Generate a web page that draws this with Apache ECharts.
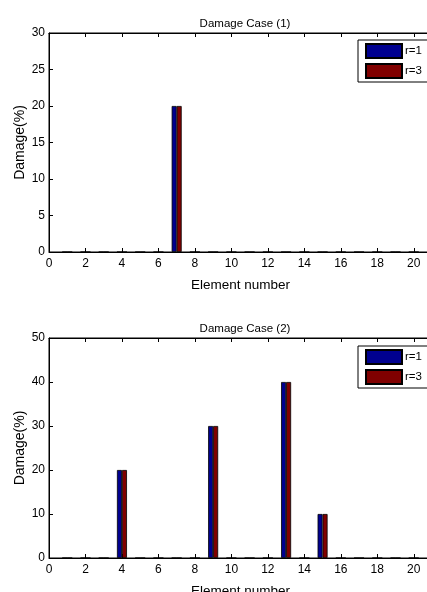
<!DOCTYPE html>
<html>
<head>
<meta charset="utf-8">
<script src="https://cdn.jsdelivr.net/npm/echarts@6/dist/echarts.min.js"></script>
<style>
  html, body { margin: 0; padding: 0; background: #fff; }
  #chart { width: 427px; height: 592px; }
</style>
</head>
<body>
<div id="chart"></div>
<script>
// Element numbers along the beam
const elements = [1, 2, 3, 4, 5, 6, 7, 8, 9, 10, 11, 12, 13, 14, 15, 16, 17, 18, 19, 20];

// Identified damage (%) per element, damage case 1
const case1R1 = [0, 0, 0, 0, 0, 0, 20, 0, 0, 0, 0, 0, 0, 0, 0, 0, 0, 0, 0, 0];
const case1R3 = [0, 0, 0, 0, 0, 0, 20, 0, 0, 0, 0, 0, 0, 0, 0, 0, 0, 0, 0, 0];

// Identified damage (%) per element, damage case 2
const case2R1 = [0, 0, 0, 20, 0, 0, 0, 0, 30, 0, 0, 0, 40, 0, 10, 0, 0, 0, 0, 0];
const case2R3 = [0, 0, 0, 20, 0, 0, 0, 0, 30, 0, 0, 0, 40, 0, 10, 0, 0, 0, 0, 0];

const titles = ['Damage Case (1)', 'Damage Case (2)'];
const seriesNames = ['r=1', 'r=3'];
const xTicks = { min: 0, max: 21, interval: 2 };
const yRanges = [{ max: 30, interval: 5 }, { max: 50, interval: 10 }];

const BLUE = '#00008f';
const RED = '#800000';
const FONT = '"Liberation Sans", Arial, sans-serif';

const chart = echarts.init(document.getElementById('chart'), null, { renderer: 'canvas' });

const gridTops = [33, 338];
const gridHeights = [219, 220];

// Plot frames run past the right edge of the page, so keep their
// geometry fixed instead of letting the layout shrink them.
const grids = gridTops.map((t, i) => ({
  left: 49, top: t, width: 383, height: gridHeights[i],
  outerBoundsMode: 'none', containLabel: false,
  show: true, borderColor: '#000', borderWidth: 1, backgroundColor: '#fff'
}));

const xAxes = [];
const yAxes = [];
[0, 1].forEach(i => {
  xAxes.push({
    type: 'value', gridIndex: i, position: 'bottom',
    min: xTicks.min, max: xTicks.max, interval: xTicks.interval,
    name: 'Element number', nameLocation: 'middle', nameGap: 26,
    nameMoveOverlap: false,
    nameTextStyle: { fontFamily: FONT, fontSize: 13.5, color: '#000' },
    axisLine: { show: true, lineStyle: { color: '#000', width: 1 } },
    axisTick: { show: true, inside: true, length: 4, lineStyle: { color: '#000' } },
    axisLabel: { fontFamily: FONT, fontSize: 12, color: '#000', margin: 6,
      showMaxLabel: false },
    splitLine: { show: false }
  });
  xAxes.push({
    type: 'value', gridIndex: i, position: 'top',
    min: xTicks.min, max: xTicks.max, interval: xTicks.interval,
    axisLine: { show: true, lineStyle: { color: '#000', width: 1 } },
    axisTick: { show: true, inside: true, length: 4, lineStyle: { color: '#000' } },
    axisLabel: { show: false },
    splitLine: { show: false }
  });
  yAxes.push({
    type: 'value', gridIndex: i,
    min: 0, max: yRanges[i].max, interval: yRanges[i].interval,
    name: 'Damage(%)', nameLocation: 'middle', nameGap: 22, nameRotate: 90,
    nameMoveOverlap: false,
    nameTextStyle: { fontFamily: FONT, fontSize: 14, color: '#000' },
    axisLine: { show: true, lineStyle: { color: '#000', width: 1 } },
    axisTick: { show: true, inside: true, length: 4, lineStyle: { color: '#000' } },
    axisLabel: { fontFamily: FONT, fontSize: 12, color: '#000', margin: 4 },
    splitLine: { show: false }
  });
});

function pairs(vals) {
  return elements.map((e, k) => [e, vals[k]]);
}

function barSeries(name, vals, color, gi) {
  return {
    name: name, type: 'bar',
    xAxisIndex: gi * 2, yAxisIndex: gi,
    data: pairs(vals),
    barWidth: 5, barGap: '0%',
    itemStyle: { color: color, borderColor: '#000', borderWidth: 0.8 },
    emphasis: { disabled: true },
    animation: false
  };
}

const series = [
  barSeries(seriesNames[0], case1R1, BLUE, 0),
  barSeries(seriesNames[1], case1R3, RED, 0),
  barSeries(seriesNames[0], case2R1, BLUE, 1),
  barSeries(seriesNames[1], case2R3, RED, 1)
];

const legendTops = [40, 346];
const legends = legendTops.map((t, i) => ({
  left: 358, top: t, orient: 'vertical',
  data: seriesNames,
  itemWidth: 36, itemHeight: 14, itemGap: 4,
  padding: [3, 20, 3, 7],
  backgroundColor: '#fff', borderColor: '#000', borderWidth: 1,
  icon: 'rect',
  selectedMode: false,
  textStyle: { fontFamily: FONT, fontSize: 11.5, color: '#000', padding: [0, 0, 0, -2] }
}));

chart.setOption({
  backgroundColor: '#fff',
  animation: false,
  title: titles.map((t, i) => ({
    text: t, left: 240, top: [13, 318][i], textAlign: 'center',
    textStyle: { fontFamily: FONT, fontSize: 11.5, fontWeight: 'normal', color: '#000' }
  })),
  legend: legends,
  grid: grids,
  xAxis: xAxes,
  yAxis: yAxes,
  series: series
});
</script>
</body>
</html>
